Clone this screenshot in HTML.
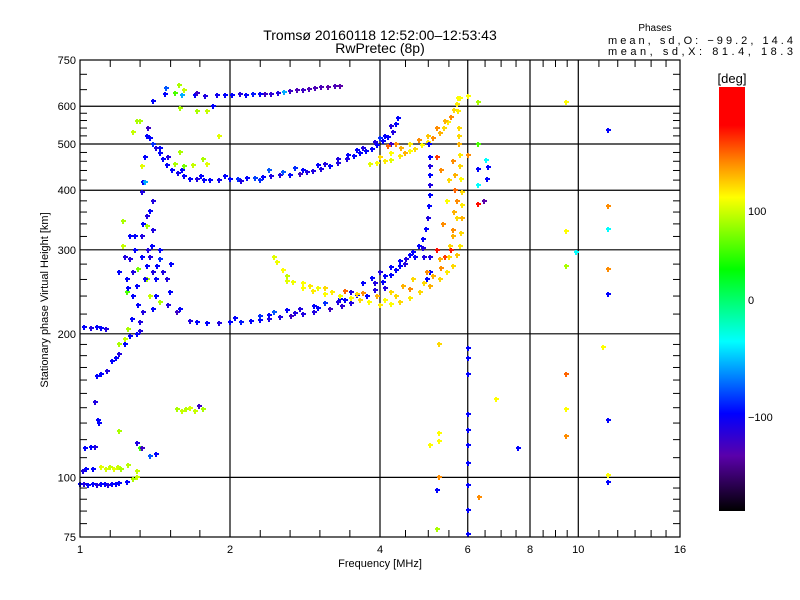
<!DOCTYPE html>
<html><head><meta charset="utf-8"><style>
body{margin:0;background:#fff;}
svg{display:block;font-family:"Liberation Sans",sans-serif;}
</style></head><body>
<svg id="chart" width="800" height="600" viewBox="0 0 800 600">
<defs>
<linearGradient id="cbar" x1="0" y1="0" x2="0" y2="1">
<stop offset="0" stop-color="#ff0000"/><stop offset="0.09" stop-color="#ff0000"/>
<stop offset="0.18" stop-color="#ff8c00"/><stop offset="0.26" stop-color="#ffff00"/>
<stop offset="0.43" stop-color="#00ff00"/><stop offset="0.6" stop-color="#00ffff"/>
<stop offset="0.77" stop-color="#0000ff"/><stop offset="0.87" stop-color="#5a00aa"/>
<stop offset="1" stop-color="#000000"/></linearGradient>
</defs>
<text x="380" y="40" font-size="14" text-anchor="middle">Tromsø 20160118 12:52:00–12:53:43</text>
<text x="380" y="53" font-size="14" text-anchor="middle">RwPretec (8p)</text>
<text x="655" y="31" font-size="10" text-anchor="middle">Phases</text>
<text x="608" y="44" font-size="11" textLength="185" lengthAdjust="spacing">mean, sd,O: −99.2, 14.4</text>
<text x="608" y="55" font-size="11" textLength="185" lengthAdjust="spacing">mean, sd,X:  81.4, 18.3</text>
<g id="grid"></g>
<g id="marks"></g>
<rect x="80" y="60" width="600" height="477" fill="none" stroke="#000" stroke-width="1.2"/>
<g id="ticks"></g>
<text x="380" y="567" font-size="11" text-anchor="middle">Frequency [MHz]</text>
<text transform="translate(48,300) rotate(-90)" font-size="11" text-anchor="middle">Stationary phase Virtual Height [km]</text>
<rect x="719" y="87" width="26" height="424" fill="url(#cbar)"/>
<text x="732" y="83" font-size="13" text-anchor="middle">[deg]</text>
<text x="748" y="215" font-size="11">100</text>
<text x="748" y="304" font-size="11">0</text>
<text x="748" y="421" font-size="11">−100</text>
</svg>
<script>
const xTickVals=[1,2,4,6,8,10,16];
const yTickVals=[75,100,200,300,400,500,600,750];
const topTrace=[[1.48,636,-100],[1.55,640,40],[1.6,632,-60],[1.7,633,-100],[1.78,630,-110],[1.88,633,-105],[1.95,632,-100],[2.02,634,-100],[2.09,636,-110],[2.15,633,-100],[2.22,635,-95],[2.3,636,-100],[2.35,636,-120],[2.42,638,-115],[2.5,641,-110],[2.57,642,-60],[2.64,645,-120],[2.72,648,-125],[2.8,650,-120],[2.88,652,-125],[2.96,655,-125],[3.05,657,-125],[3.15,659,-130],[3.25,660,-125],[3.32,661,-130],[1.49,655,-80],[1.58,665,60],[1.62,650,70],[1.72,640,-120],[1.4,615,-100]];
const upperO=[[1.38,514,-100],[1.4,500,-90],[1.42,490,-110],[1.447,478,-100],[1.47,465,-100],[1.495,451,-100],[1.53,442,-100],[1.572,434,-105],[1.62,428,-100],[1.662,423,-100],[1.72,422,-110],[1.77,420,-100],[1.823,421,-100],[1.9,421,-105],[2.0,423,-100],[2.08,422,-90],[2.16,424,-100],[2.245,425,-85],[2.33,427,-100],[2.42,428,-110],[2.52,430,-110],[2.64,431,-100],[2.76,432,-120],[2.85,436,-110],[2.93,439,-110],[3.05,444,-110],[3.17,450,-100],[3.3,457,-110],[3.43,465,-110],[3.54,472,-100],[3.64,478,-100],[3.75,484,-100],[3.85,489,-100],[3.95,498,-100],[4.06,508,-100],[4.15,518,-100],[4.25,530,-110],[4.3,550,-100],[4.35,566,-100],[2.4,440,-80],[2.7,445,-90],[3.0,452,-100],[3.3,466,-110],[3.6,485,-100],[3.9,505,-110],[4.1,520,-100],[4.2,545,-110],[1.95,428,-100],[2.1,418,-110],[2.3,420,-90],[2.55,436,-80],[2.8,441,-100],[3.1,455,-110],[3.45,473,-100],[3.7,490,-110],[4.0,515,-90],[4.2,500,-120],[1.45,490,-100],[1.5,470,-110],[1.6,440,-100],[1.75,428,-100]];
const upperX=[[3.82,455,80],[3.95,457,90],[4.09,460,95],[4.2,462,80],[4.39,471,95],[4.5,478,110],[4.6,484,90],[4.7,489,100],[4.85,498,90],[4.99,506,95],[5.1,514,120],[5.28,526,110],[5.38,540,100],[5.47,555,95],[5.55,570,120],[5.64,589,100],[5.72,606,95],[5.79,624,90],[4.0,470,100],[4.2,478,90],[4.4,490,110],[4.6,500,95],[4.8,510,120],[5.0,520,105],[5.2,540,120],[5.4,560,110],[4.3,500,120],[4.15,495,130]];
const lowO=[[1.66,213,-110],[1.72,212,-100],[1.8,211,-100],[1.9,211,-110],[2.0,212,-100],[2.1,212,-95],[2.2,213,-100],[2.3,214,-100],[2.4,215,-110],[2.52,217,-110],[2.65,218,-120],[2.8,220,-110],[2.95,222,-110],[3.17,225,-120],[3.35,229,-115],[3.5,232,-110],[3.65,236,-110],[3.77,240,-100],[3.9,247,-110],[4.06,257,-100],[4.2,266,-100],[4.39,278,-100],[4.52,287,-110],[4.66,297,-100],[4.78,306,-100],[4.88,316,-100],[4.95,332,-100],[4.99,349,-110],[5.02,370,-100],[5.04,390,-100],[5.04,410,-110],[5.04,430,-100],[5.05,450,-110],[5.05,470,-100],[5.02,500,-100],[5.03,290,-110],[5.04,270,-100],[4.97,260,-100]];
const midBlue=[[2.3,218,-90],[2.45,222,-80],[2.6,224,-100],[2.76,225,-110],[2.95,229,-100],[3.1,232,-90],[3.32,237,-100],[3.5,245,-110],[3.7,255,-100],[3.85,262,-100],[4.0,269,-110],[4.2,276,-100],[4.39,284,-100],[4.6,293,-100],[4.88,302,-110],[2.05,216,-100],[2.4,219,-100],[2.7,221,-110],[3.0,226,-100],[3.3,233,-110],[3.6,241,-100],[3.9,255,-110],[4.1,265,-100],[4.3,272,-100],[4.5,280,-110],[4.7,290,-100],[4.9,290,-110],[4.1,250,-110],[3.4,235,-100]];
const lowX=[[2.45,290,80],[2.485,283,85],[2.55,272,90],[2.6,265,70],[2.675,257,85],[2.8,250,90],[2.94,246,95],[3.1,242,90],[3.32,240,85],[3.5,238,90],[3.64,236,100],[3.8,233,90],[4.0,230,95],[4.2,231,90],[4.39,233,100],[4.6,238,95],[4.81,245,100],[5.05,252,110],[5.28,261,100],[5.45,270,95],[5.6,278,100],[5.72,292,105],[5.79,306,95],[5.82,325,100],[5.84,349,110],[5.84,372,95],[5.84,397,100],[5.82,423,90],[5.8,450,100],[5.78,473,95],[5.76,500,110],[5.75,540,100],[5.74,586,95],[5.74,624,90],[2.9,252,95],[3.1,249,100],[3.4,246,130],[3.7,243,120],[3.95,240,110],[4.2,245,100],[4.45,252,110],[4.66,261,100],[4.97,269,120],[5.28,287,110],[5.53,306,100],[5.6,330,120],[5.62,360,110],[5.65,400,130],[5.55,300,150],[5.4,290,140],[5.2,300,160],[5.35,340,120],[5.45,380,90],[2.6,258,80],[2.8,256,90],[3.0,250,85],[3.2,245,95],[3.6,242,100],[4.1,236,90],[4.3,240,100],[4.6,248,120],[4.9,256,100],[5.1,265,110],[5.3,275,120],[5.5,290,100],[5.6,320,110],[5.7,350,100],[5.7,380,120],[5.65,430,110],[5.6,460,120],[5.75,520,100],[5.5,420,100],[5.3,440,120],[5.2,470,140]];
const leftCluster=[[1.26,287,-110],[1.243,261,-100],[1.278,240,-100],[1.338,222,-110],[1.401,225,-100],[1.447,287,-90],[1.428,278,-100],[1.495,261,-110],[1.516,245,-100],[1.363,278,-100],[1.26,321,-100],[1.332,321,-110],[1.395,306,-100],[1.30,252,-100],[1.32,212,-110],[1.566,222,-120],[1.587,225,-100],[1.363,354,-110],[1.22,344,60],[1.22,306,70],[1.243,245,40],[1.363,261,60],[1.382,240,70],[1.307,274,50],[1.447,233,60],[1.2,270,-100],[1.23,290,-110],[1.29,300,-100],[1.35,260,-105],[1.4,270,-110],[1.45,300,-100],[1.5,230,-110],[1.42,240,-100],[1.31,230,-100],[1.27,215,-100],[1.38,290,-110],[1.25,205,60],[1.23,195,70],[1.2,190,60],[1.338,417,-100],[1.332,397,-110],[1.35,417,-60],[1.382,361,-100],[1.363,337,60],[1.401,379,-110],[1.33,450,80],[1.35,470,-100],[1.36,520,-100],[1.37,540,-120],[1.3,560,60],[1.28,530,70],[1.765,466,60],[1.686,451,70],[1.798,455,80],[1.587,482,60],[1.717,585,60],[1.798,585,70],[1.587,594,60],[1.32,558,60],[1.62,450,50],[1.5,470,-110],[1.55,455,60],[1.9,520,80],[1.85,600,-100],[1.25,250,-100],[1.28,270,-110],[1.33,290,-100],[1.37,300,-110],[1.42,260,-100],[1.47,270,-110],[1.52,280,-100],[1.29,320,-100],[1.34,340,-100],[1.4,330,-110]];
const lowLeft=[[1.32,203,-110],[1.3,200,-100],[1.26,198,-100],[1.23,190,-100],[1.2,181,-110],[1.18,178,-100],[1.16,175,-100],[1.133,167,-110],[1.1,165,-100],[1.082,163,-100],[1.072,144,-110],[1.087,132,-100],[1.09,130,-100],[1.072,116,-110],[1.05,116,-100],[1.023,115,-100],[1.062,104,-100],[1.014,103,-110],[1.03,104,-100],[1.02,207,-100],[1.05,206,-110],[1.08,207,-100],[1.1,206,-100],[1.13,205,-110],[1.0,97,-100],[1.02,97,-110],[1.04,96.5,-100],[1.06,97,-100],[1.08,96.5,-110],[1.1,97,-100],[1.12,97,-100],[1.14,96.5,-110],[1.16,97,-100],[1.18,97,-100],[1.2,97.5,-100],[1.24,98,-100],[1.28,99,60],[1.3,100,70],[1.1,105,80],[1.13,104,75],[1.15,105,70],[1.17,104,80],[1.19,105,70],[1.21,104,60],[1.25,106,65],[1.3,103,70],[1.32,115,40],[1.566,139,60],[1.6,138,70],[1.63,139,65],[1.66,140,75],[1.7,138,70],[1.765,139,60],[1.73,141,-120],[1.3,118,-110],[1.38,111,-80],[1.42,112,-100],[1.33,115,-120],[1.2,125,60]];
const sparse=[[6.0,187,-100],[6.0,178,-100],[6.0,165,-100],[6.0,136,-100],[6.0,126,-100],[6.0,117,-100],[6.0,107,-100],[6.0,96.5,-100],[6.0,85.5,-100],[6.0,76,-100],[9.45,612,90],[11.47,534,-100],[6.29,612,60],[6.29,499,40],[6.53,462,-40],[6.6,447,-100],[6.29,443,-100],[6.55,423,-100],[6.29,410,-40],[6.29,375,160],[6.48,379,-130],[6.0,630,90],[6.0,475,120],[9.45,329,90],[9.45,278,60],[9.9,297,-40],[11.47,370,120],[11.47,331,-40],[11.47,274,120],[11.47,242,-100],[9.45,165,130],[9.45,139,90],[9.45,122,120],[11.47,132,-100],[11.2,188,90],[11.47,101,90],[11.47,98,-100],[6.83,146,90],[7.56,115,-100],[5.26,190,100],[5.26,124,90],[5.26,119,90],[5.04,117,90],[5.26,100,120],[5.2,94,-100],[5.2,78,60],[6.33,91,120]];
const series=[topTrace,upperO,upperX,lowO,midBlue,lowX,leftCluster,lowLeft,sparse];

const X0=80,X1=680,Y0=537,Y1=60;
function xPos(f){return X0+(X1-X0)*Math.log2(f)/4;}
function yPos(h){return Y0-(Y0-Y1)*Math.log10(h/75);}
const cStops=[[180,[255,0,0]],[150,[255,20,0]],[120,[255,140,0]],[90,[255,255,0]],[60,[170,255,0]],[25,[0,255,0]],[-10,[0,255,140]],[-40,[0,255,255]],[-70,[0,130,255]],[-100,[0,0,255]],[-130,[90,0,170]],[-160,[60,0,80]],[-180,[0,0,0]]];
function phaseColor(p){
  for(let i=0;i<cStops.length-1;i++){
    const a=cStops[i],b=cStops[i+1];
    if(p<=a[0]&&p>=b[0]){const t=(a[0]-p)/(a[0]-b[0]);
      const c=a[1].map((v,k)=>Math.round(v+(b[1][k]-v)*t));return `rgb(${c[0]},${c[1]},${c[2]})`;}
  }
  return p>180?'rgb(255,0,0)':'rgb(0,0,0)';
}
const NS="http://www.w3.org/2000/svg";
function mk(tag,attrs,parent){const e=document.createElementNS(NS,tag);for(const k in attrs)e.setAttribute(k,attrs[k]);parent.appendChild(e);return e;}
const grid=document.getElementById('grid');
xTickVals.slice(1,6).forEach(f=>{
  const l=mk('line',{x1:xPos(f),x2:xPos(f),y1:Y1,y2:Y0,stroke:'#000','stroke-width':1.2},grid);
  
  
});
yTickVals.slice(1,7).forEach(h=>{
  const l=mk('line',{x1:X0,x2:X1,y1:yPos(h),y2:yPos(h),stroke:'#000','stroke-width':1.2},grid);
  
  
});
const ticks=document.getElementById('ticks');
xTickVals.forEach(f=>{
  const t=mk('text',{x:xPos(f),y:553,'font-size':11,'text-anchor':'middle'},ticks);t.textContent=f;
  
  
});
yTickVals.forEach(h=>{
  const t=mk('text',{x:76,y:yPos(h)+4,'font-size':11,'text-anchor':'end'},ticks);t.textContent=h;
  
  
});
const minorX=[1.15,1.32,1.52,1.74,2.3,2.64,3.03,3.48,4.5,5,5.5,6.5,7,7.5,8.5,9,9.5,11,12,13,14,15];
const minorY=[80,85,90,95,110,120,130,140,150,160,170,180,190,220,240,260,280,320,340,360,380,420,440,460,480,520,540,560,580,650,700];
minorX.forEach(f=>{const x=xPos(f);
  mk('line',{x1:x,x2:x,y1:Y0,y2:Y0-7,stroke:'#000'},ticks);
  mk('line',{x1:x,x2:x,y1:Y1,y2:Y1+7,stroke:'#000'},ticks);});
minorY.forEach(h=>{const y=yPos(h);
  mk('line',{x1:X0,x2:X0+7,y1:y,y2:y,stroke:'#000'},ticks);
  mk('line',{x1:X1,x2:X1-7,y1:y,y2:y,stroke:'#000'},ticks);});
const marks=document.getElementById('marks');
series.forEach(s=>s.forEach(d=>{
  const x=Math.round(xPos(d[0])),y=Math.round(yPos(d[1])),c=phaseColor(d[2]);
  const g=mk('g',{fill:c},marks);
  
  
  mk('rect',{x:x-2,y:y-1,width:5,height:2},g);
  mk('rect',{x:x-1,y:y-2,width:2,height:5},g);
}));
</script>
</body></html>
